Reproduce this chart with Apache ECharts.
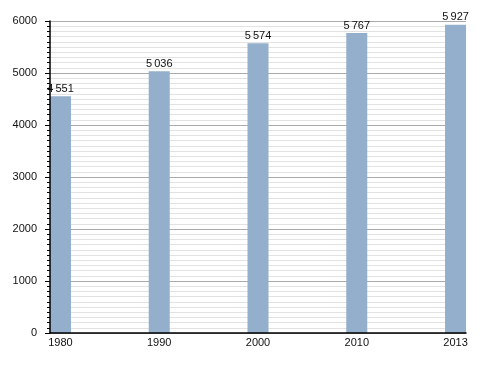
<!DOCTYPE html>
<html><head><meta charset="utf-8">
<script src="https://cdn.jsdelivr.net/npm/echarts@6/dist/echarts.min.js"></script>
<style>html,body{margin:0;padding:0;background:#fff}#c{width:495px;height:373px}</style>
</head><body><div id="c"></div>
<script>
const years = ['1980', '1990', '2000', '2010', '2013'];
const population = [4551, 5036, 5574, 5767, 5927];
const yTicks = [0, 1000, 2000, 3000, 4000, 5000, 6000];

const fmt = v => String(v).replace(/\B(?=(\d{3})+(?!\d))/g, '\u2009');
const yMin = yTicks[0], yMax = yTicks[yTicks.length - 1];
const chart = echarts.init(document.getElementById('c'), null, {renderer: 'canvas'});
chart.setOption({
  animation: false,
  grid: {left: 50, right: 29, top: 21, bottom: 40},
  xAxis: {
    type: 'value', min: -0.106, max: 4.106,
    axisLine: {show: true, onZero: false, lineStyle: {color: '#000', width: 1.5}},
    axisTick: {show: false},
    splitLine: {show: false},
    axisLabel: {
      customValues: years.map((_, i) => i),
      formatter: v => years[Math.round(v)],
      color: '#111', fontFamily: 'Liberation Sans, Arial', fontSize: 11, margin: 4
    },
    z: 5
  },
  yAxis: [{
    type: 'value', min: yMin, max: yMax, interval: 1000,
    axisLine: {show: false},
    axisTick: {show: false},
    axisLabel: {show: false},
    splitLine: {show: true, lineStyle: {color: '#aaaaaa', width: 1}},
    minorSplitLine: {show: true, lineStyle: {color: '#e2e2e2', width: 1}},
    minorTick: {show: false, splitNumber: 10}
  }, {
    type: 'value', min: yMin, max: yMax, interval: 1000, position: 'left',
    axisLine: {show: true, onZero: false, lineStyle: {color: '#000', width: 1.5}},
    axisTick: {show: true, length: 5, lineStyle: {color: '#000'}},
    minorTick: {show: true, splitNumber: 10, length: 3, lineStyle: {color: '#000'}},
    splitLine: {show: false},
    minorSplitLine: {show: false},
    axisLabel: {formatter: v => String(v), color: '#111', fontFamily: 'Liberation Sans, Arial', fontSize: 11, margin: 13},
    z: 5
  }],
  series: [{
    type: 'bar',
    yAxisIndex: 0,
    data: population.map((v, i) => [i, v]),
    barWidth: 21,
    itemStyle: {color: '#93afcb'},
    label: {
      show: true, position: 'top', distance: 2,
      formatter: p => fmt(p.value[1]),
      color: '#111', fontFamily: 'Liberation Sans, Arial', fontSize: 11
    }
  }]
});
</script></body></html>
